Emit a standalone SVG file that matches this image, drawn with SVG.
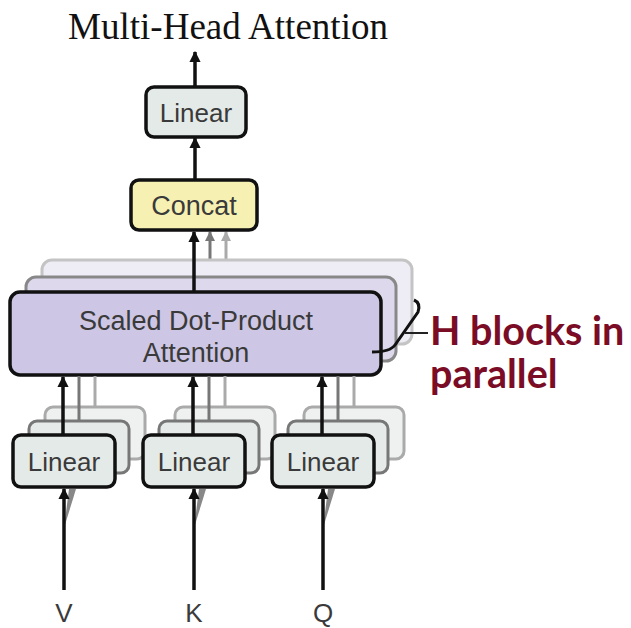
<svg xmlns="http://www.w3.org/2000/svg" width="631" height="628" viewBox="0 0 631 628">
<style>
.box{stroke:#111;stroke-width:3.5}
.lin{fill:#e4eae8}
.sh1{fill:#e6ebe9;stroke:#777;stroke-width:3}
.sh2{fill:#eef1f0;stroke:#aaa;stroke-width:3}
.lbl{font-family:"Liberation Sans",Arial,sans-serif;fill:#3a3a3a;text-anchor:middle}
.ar{stroke:#111;stroke-width:3.5;fill:none}
.ar2{stroke:#777;stroke-width:3;fill:none}
.ar3{stroke:#aaa;stroke-width:3;fill:none}
.red{font-family:Lato,"Open Sans",sans-serif;font-weight:bold;fill:#7b0c26;font-size:39.5px}
</style>
<defs>
<marker id="ah" viewBox="0 0 10 10" refX="9" refY="5" markerWidth="3.2" markerHeight="3.2" orient="auto"><path d="M0,0 L10,5 L0,10 z" fill="#111"/></marker>
<marker id="ah2" viewBox="0 0 10 10" refX="9" refY="5" markerWidth="3.4" markerHeight="3.4" orient="auto"><path d="M0,0 L10,5 L0,10 z" fill="#777"/></marker>
<marker id="ah3" viewBox="0 0 10 10" refX="9" refY="5" markerWidth="3.4" markerHeight="3.4" orient="auto"><path d="M0,0 L10,5 L0,10 z" fill="#aaa"/></marker>
</defs>
<rect width="631" height="628" fill="#fff"/>
<text x="228" y="39" font-family="'Liberation Serif','Times New Roman',serif" font-size="37" fill="#111" text-anchor="middle" textLength="320" lengthAdjust="spacingAndGlyphs">Multi-Head Attention</text>

<g id="connectors-back">
<line class="ar3" x1="226" y1="262" x2="226" y2="232" marker-end="url(#ah3)"/>
<line class="ar2" x1="210" y1="278" x2="210" y2="232" marker-end="url(#ah2)"/>
</g>

<g id="sdpa">
<rect x="42" y="260" width="370" height="84" rx="10" fill="#eeecf4" stroke="#c4c4c4" stroke-width="3"/>
<rect x="26" y="277" width="370" height="84" rx="10" fill="#ddd8ec" stroke="#888" stroke-width="3"/>
<rect class="box" x="10" y="292" width="371" height="83" rx="10" fill="#cdc6e4"/>
<text class="lbl" x="196" y="330" font-size="27">Scaled Dot-Product</text>
<text class="lbl" x="196" y="362" font-size="27">Attention</text>
</g>

<g id="linear-v">
<rect class="sh2" x="45" y="407" width="100" height="52" rx="8"/>
<rect class="sh1" x="29" y="421" width="100" height="52" rx="8"/>
<rect class="box lin" x="13" y="435" width="102" height="52" rx="8"/>
<text class="lbl" x="64" y="471" font-size="26">Linear</text>
</g>
<g id="linear-k">
<rect class="sh2" x="175" y="407" width="100" height="52" rx="8"/>
<rect class="sh1" x="159" y="421" width="100" height="52" rx="8"/>
<rect class="box lin" x="143" y="435" width="102" height="52" rx="8"/>
<text class="lbl" x="194" y="471" font-size="26">Linear</text>
</g>
<g id="linear-q">
<rect class="sh2" x="304" y="407" width="100" height="52" rx="8"/>
<rect class="sh1" x="288" y="421" width="100" height="52" rx="8"/>
<rect class="box lin" x="272" y="435" width="102" height="52" rx="8"/>
<text class="lbl" x="323" y="471" font-size="26">Linear</text>
</g>

<g id="concat">
<rect class="box" x="131" y="180" width="126" height="50" rx="8" fill="#f6f1b3"/>
<text class="lbl" x="194" y="215" font-size="27">Concat</text>
</g>
<g id="linear-top">
<rect class="box lin" x="146" y="87" width="100" height="50" rx="8"/>
<text class="lbl" x="196" y="122" font-size="26">Linear</text>
</g>

<g id="connectors">
<line class="ar" x1="195" y1="87" x2="195" y2="52" marker-end="url(#ah)"/>
<line class="ar" x1="195" y1="180" x2="195" y2="138" marker-end="url(#ah)"/>
<line class="ar" x1="194" y1="292" x2="194" y2="232" marker-end="url(#ah)"/>
<g>
<line class="ar2" x1="79" y1="421" x2="79" y2="376"/>
<line class="ar3" x1="95" y1="407" x2="95" y2="376"/>
<line class="ar2" x1="209" y1="421" x2="209" y2="376"/>
<line class="ar3" x1="225" y1="407" x2="225" y2="376"/>
<line class="ar2" x1="338" y1="421" x2="338" y2="376"/>
<line class="ar3" x1="354" y1="407" x2="354" y2="376"/>
</g>
<line class="ar" x1="63" y1="435" x2="63" y2="377" marker-end="url(#ah)"/>
<line class="ar" x1="193" y1="435" x2="193" y2="377" marker-end="url(#ah)"/>
<line class="ar" x1="322" y1="435" x2="322" y2="377" marker-end="url(#ah)"/>
<path d="M64,528 L69,489 L76,489 Z" fill="#888"/>
<path d="M194,528 L199,489 L206,489 Z" fill="#888"/>
<path d="M323,528 L328,489 L335,489 Z" fill="#888"/>
<line class="ar" x1="64" y1="590" x2="64" y2="489" marker-end="url(#ah)"/>
<line class="ar" x1="194" y1="590" x2="194" y2="489" marker-end="url(#ah)"/>
<line class="ar" x1="323" y1="590" x2="323" y2="489" marker-end="url(#ah)"/>
</g>

<g id="inputs">
<text class="lbl" x="64" y="622" font-size="26">V</text>
<text class="lbl" x="194" y="622" font-size="26">K</text>
<text class="lbl" x="323" y="622" font-size="26">Q</text>
</g>

<g id="brace-label">
<path d="M414,300 Q421,303 418,312 L395,345 Q390,352 372,352" fill="none" stroke="#111" stroke-width="3"/>
<line x1="405" y1="333" x2="428" y2="333" stroke="#222" stroke-width="2"/>
<text class="red" x="430" y="345">H blocks in</text>
<text class="red" x="430" y="388">parallel</text>
</g>
</svg>
